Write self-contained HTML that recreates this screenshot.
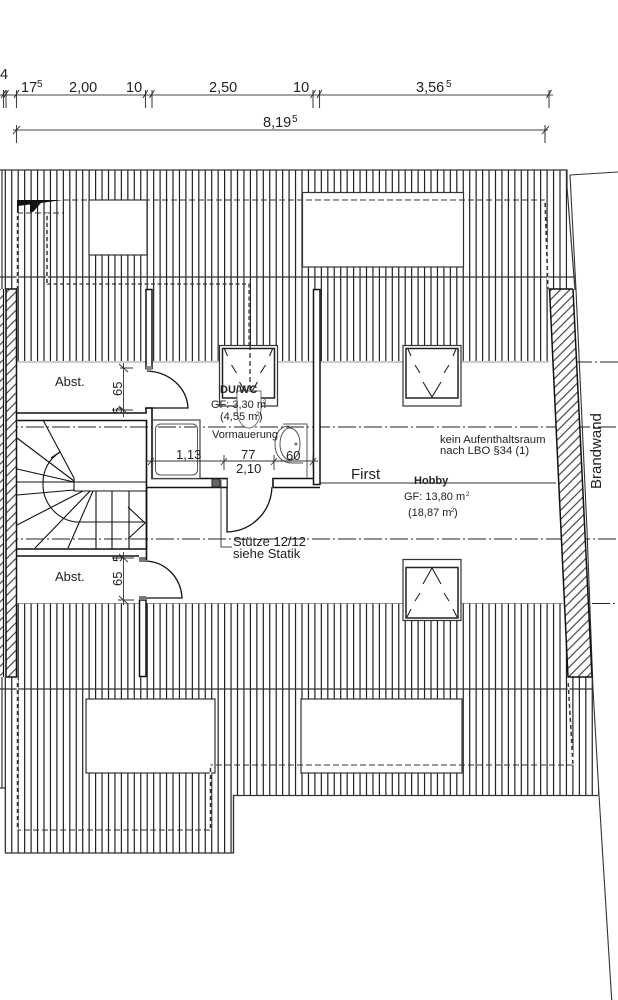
<!DOCTYPE html>
<html><head><meta charset="utf-8"><title>Grundriss</title>
<style>html,body{margin:0;padding:0;background:#fff}svg{display:block}text{font-family:"Liberation Sans",sans-serif;fill:#222}</style></head>
<body>
<svg width="618" height="1000" viewBox="0 0 618 1000" xmlns="http://www.w3.org/2000/svg">
<defs>
<pattern id="d" width="6.5" height="10" patternUnits="userSpaceOnUse" patternTransform="rotate(45)"><line x1="3.2" y1="0" x2="3.2" y2="10" stroke="#222" stroke-width="1"/></pattern>
</defs>
<rect width="618" height="1000" fill="#fff"/>
<!-- roof hatching -->
<g fill="none" stroke="#222" stroke-dasharray="1.2 5.25">
<line x1="4.7" y1="265.5" x2="567" y2="265.5" stroke-width="191"/>
<line x1="4.7" y1="699" x2="599" y2="699" stroke-width="192"/>
<line x1="4.7" y1="824" x2="233" y2="824" stroke-width="58"/>
</g>
<g fill="none" stroke="#333" stroke-width="1.2">
<line x1="2" y1="170" x2="2" y2="788"/>
<line x1="0" y1="788" x2="5" y2="788"/>
<path d="M0 170H567V187"/>
<line x1="0" y1="277" x2="575" y2="277"/>
<line x1="0" y1="689" x2="593" y2="689"/>
<path d="M5 853H233.500V795.500H598"/>
<line x1="567" y1="187" x2="575" y2="290"/>
<line x1="233.500" y1="795" x2="233.500" y2="853"/>
</g>
<!-- cover right of boundary -->
<polygon points="570,176 576,290 587,530 593,689 599,795 612,1000 618,1000 618,176" fill="#fff"/>
<polyline points="570,175 576,290 587,530 593,689 599,795 611.700,1000" fill="none" stroke="#333" stroke-width="1.1"/>
<line x1="570" y1="175" x2="618" y2="172" stroke="#333" stroke-width="1.1"/>
<!-- dormers -->
<g fill="#fff" stroke="#333" stroke-width="1.2">
<rect x="89" y="200" width="58" height="55"/>
<rect x="302.500" y="192.500" width="161" height="74.500"/>
<rect x="86" y="699" width="129" height="74"/>
<rect x="301" y="699" width="161" height="74"/>
</g>
<!-- dashed outline -->
<g fill="none" stroke="#333" stroke-width="1" stroke-dasharray="6 3">
<path d="M63 200H545"/>
<path d="M17 213H63"/>
<path d="M47 284H249V400" stroke-dasharray="4 2.500" stroke-width="1.200"/>
<path d="M573 765H210"/>
<path d="M210 830H17"/>
</g>
<g fill="none" stroke="#333" stroke-width="1.500">
<path d="M17.500 213V289M17.500 680V830M47 213V284M210.500 765V830M545 200L548 289M568 680L573 765"/>
</g>
<g fill="none" stroke="#fff" stroke-width="1.600" stroke-dasharray="3 4">
<path d="M17.500 213V289M17.500 680V830M47 213V284M210.500 765V830M545 200L548 289M568 680L573 765"/>
</g>
<path d="M17 200H63L18 206V213H17Z M30 204L41 203L33 212H30Z" fill="#111"/>
<!-- axes -->
<g fill="none" stroke="#222" stroke-width="1" stroke-dasharray="18 3 2 3">
<line x1="0" y1="427" x2="618" y2="427"/>
<line x1="0" y1="539" x2="618" y2="539"/>
<line x1="574" y1="362" x2="618" y2="362"/>
<line x1="592" y1="603.500" x2="618" y2="603.500"/>
</g>
<line x1="17" y1="362" x2="549" y2="362" stroke="#777" stroke-width=".8"/>
<line x1="17" y1="603.500" x2="563" y2="603.500" stroke="#777" stroke-width=".8"/>
<!-- ridge line -->
<line x1="320" y1="483" x2="556" y2="483" stroke="#333" stroke-width="1.100"/>
<!-- fire wall -->
<polygon points="549.500,289 573,289 592,677 568,677" fill="#fff"/>
<polygon points="549.500,289 573,289 592,677 568,677" fill="url(#d)"/>
<path d="M573 289L592 677H568L549.500 289H573" fill="none" stroke="#111" stroke-width="1.500"/>
<!-- left wall -->
<rect x="0" y="289" width="17" height="388" fill="#fff"/>
<rect x="6" y="289" width="11" height="388" fill="url(#d)"/>
<rect x="0" y="289" width="3" height="388" fill="url(#d)"/>
<path d="M6 677V289H16.500V677H6" fill="none" stroke="#111" stroke-width="1.500"/>
<line x1="3.500" y1="289" x2="3.500" y2="677" stroke="#111" stroke-width="1.200"/>
<!-- interior wall stubs -->
<g fill="#fff" stroke="#111" stroke-width="1.500">
<rect x="146" y="289.500" width="6" height="79"/>
<rect x="139.500" y="600" width="6.500" height="76.500"/>
<rect x="313.500" y="289.500" width="6.500" height="195" />
</g>
<rect x="146" y="366" width="6" height="4" fill="#888"/>
<rect x="139" y="557" width="7" height="5" fill="#777"/>
<rect x="139" y="596" width="7" height="4" fill="#777"/>
<!-- room walls -->
<g fill="none" stroke="#111" stroke-width="1.600">
<path d="M17 413H146V408H152V420"/>
<path d="M17 420.500H146.500V549"/>
<path d="M17 549H146.500V560"/>
<path d="M17 556H139"/>
<path d="M146.500 549V487.500H227"/>
<path d="M152 420V478.500H227V487.500"/>
<path d="M273 487.500V478.500H313.500"/>
<path d="M273 487.500H320"/>
</g>
<rect x="212" y="479" width="8" height="8" fill="#666" stroke="#222"/>
<rect x="220" y="479" width="7" height="8" fill="#fff" stroke="#222" stroke-width=".8"/>
<!-- bath -->
<rect x="152.500" y="420" width="47.500" height="58.500" fill="#fff" stroke="#444" stroke-width="1.200"/>
<rect x="155.500" y="424" width="42" height="51" rx="5" fill="#fff" stroke="#555" stroke-width="1"/>
<line x1="158" y1="427" x2="196" y2="427" stroke="#222" stroke-dasharray="18 3 2 3"/>
<!-- doors -->
<g fill="none" stroke="#111" stroke-width="1.300">
<path d="M147 371C170 372 187 388 188 408H147"/>
<path d="M146 561C166 562 181 578 182 598H146"/>
<path d="M227 487V532C252 531 271 512 272 487"/>
</g>
<path d="M221 480V547H232" fill="none" stroke="#444" stroke-width="1"/>
<!-- stairs -->
<g fill="none" stroke="#111" stroke-width="1.100">
<path d="M43 420L74 478V491M17 438L74 481M17 469L74 482"/>
<path d="M17 482H146M74 491H146M17 495L74 490M17 525L83 491M35 548L90 491M68 548L93 491"/>
<path d="M96 491V549M112 491V549M129 491V549"/>
<path d="M60 452A36 36 0 0 0 43 484A38 38 0 0 0 75 522H145M128 507L145 523L128 539"/>
<path d="M51 458L60 452"/>
</g>
<!-- skylights -->
<g>
<rect x="403" y="345.500" width="58" height="60.500" fill="#fff" stroke="#333" stroke-width="1.200"/>
<rect x="406" y="348.500" width="52" height="49.500" fill="#fff" stroke="#222" stroke-width="1.500"/>
<path d="M408 349L411 356M415 365L420 373M423 382L432 397L441 382M444 373L449 365M453 356L456 349" fill="none" stroke="#222" stroke-width="1.100"/>
</g>
<g transform="translate(-183.500 0)">
<rect x="403" y="345.500" width="58" height="60.500" fill="#fff" stroke="#333" stroke-width="1.200"/>
<rect x="406" y="348.500" width="52" height="49.500" fill="#fff" stroke="#222" stroke-width="1.500"/>
<path d="M408 349L411 356M415 365L420 373M423 382L432 397L441 382M444 373L449 365M453 356L456 349" fill="none" stroke="#222" stroke-width="1.100"/>
</g>
<rect x="403" y="559.500" width="58" height="61" fill="#fff" stroke="#333" stroke-width="1.200"/>
<rect x="406" y="567.500" width="52" height="50.500" fill="#fff" stroke="#222" stroke-width="1.500"/>
<path d="M423 584L432 568L441 584M444 593L449 601M420 593L415 601M453 609L457 617M411 609L407 617" fill="none" stroke="#222" stroke-width="1.100"/>
<line x1="250" y1="345" x2="250" y2="398" stroke="#222" stroke-width="1.200" stroke-dasharray="5 3"/>
<!-- sink -->
<path d="M237 391H261V408C261 420 255 428 249 428C242 428 237 420 237 408Z" fill="#fff" stroke="#666" stroke-width=".9"/>
<!-- WC -->
<g fill="none" stroke="#555" stroke-width="1">
<path d="M283 424H307V478"/>
<path d="M289 426C280 426 275 434 275 444C275 456 282 463 292 463H303"/>
<ellipse cx="290" cy="444" rx="10" ry="16"/>
<circle cx="296" cy="444" r="1"/>
</g>
<!-- dims interior -->
<g fill="none" stroke="#333" stroke-width=".9">
<line x1="147" y1="461" x2="318" y2="461"/>
<path d="M224 455V470M274 455V470M151.500 458V464M313 455V468"/>
<path d="M148 465L154 458M221 465L227 458M271 465L277 458M310 465L316 458"/>
<line x1="123.500" y1="363" x2="123.500" y2="417"/>
<path d="M120 368H133M112 410H133M119 364L128 372M119 406L128 414"/>
<line x1="123.500" y1="552" x2="123.500" y2="605"/>
<path d="M112 558H134M118 600H134M119 554L128 562M119 596L128 604"/>
</g>
<!-- top dims -->
<g fill="none" stroke="#444" stroke-width="1.100">
<line x1="0" y1="95" x2="553" y2="95"/>
<path d="M3.500 90V108M6 90V108M16.500 90V108M145.500 90V108M152 90V108M313 90V108M319.500 90V108M549 90V108"/>
<line x1="13" y1="130" x2="548" y2="130"/>
<path d="M16.500 125V143M545 125V143"/>
</g>
<path d="M1 98L6 90M3.500 98L8.500 90M14 98L19 90M143 98L148 90M149.500 98L154.500 90M310.500 98L315.500 90M317 98L322 90M546.500 98L551.500 90M13 134L20 126M542 134L549 126" fill="none" stroke="#222" stroke-width=".9"/>
<!-- text -->
<g font-size="14.500">
<text x="0" y="79">4</text>
<text x="21" y="92">17</text><text x="37" y="87" font-size="10">5</text>
<text x="69" y="92">2,00</text>
<text x="126" y="92">10</text>
<text x="209" y="92">2,50</text>
<text x="293" y="92">10</text>
<text x="416" y="92">3,56</text><text x="446" y="87" font-size="10">5</text>
<text x="263" y="127">8,19</text><text x="292" y="122" font-size="10">5</text>
<text x="351" y="479" font-size="15">First</text>
<text transform="translate(601 489) rotate(-90)" font-size="15">Brandwand</text>
</g>
<g font-size="13">
<text x="55" y="386">Abst.</text>
<text x="55" y="581">Abst.</text>
<text x="176" y="459">1,13</text>
<text x="241" y="459">77</text>
<text x="236" y="473">2,10</text>
<text x="286" y="460">60</text>
<text x="233" y="546">Stütze 12/12</text>
<text x="233" y="558">siehe Statik</text>
<text transform="translate(122 396) rotate(-90)">65</text>
<text transform="translate(122 414) rotate(-90)">5</text>
<text transform="translate(122 586) rotate(-90)">65</text>
<text transform="translate(122 562) rotate(-90)">5</text>
</g>
<g font-size="11">
<text x="212" y="438">Vormauerung</text>
<text x="440" y="443" font-size="11.300">kein Aufenthaltsraum</text>
<text x="440" y="454" font-size="11.300">nach LBO §34 (1)</text>
<text x="211" y="408">GF: 3,30 m</text><text x="263" y="404" font-size="6">2</text>
<text x="220" y="420">(4,55 m</text><text x="256" y="416" font-size="6">2</text><text x="259" y="420">)</text>
<text x="404" y="500">GF: 13,80 m</text><text x="466" y="496" font-size="6">2</text>
<text x="408" y="516">(18,87 m</text><text x="451" y="512" font-size="6">2</text><text x="454" y="516">)</text>
<text x="220" y="393" font-weight="bold">DU/WC</text>
<text x="414" y="484" font-weight="bold">Hobby</text>
</g>
</svg>
</body></html>
